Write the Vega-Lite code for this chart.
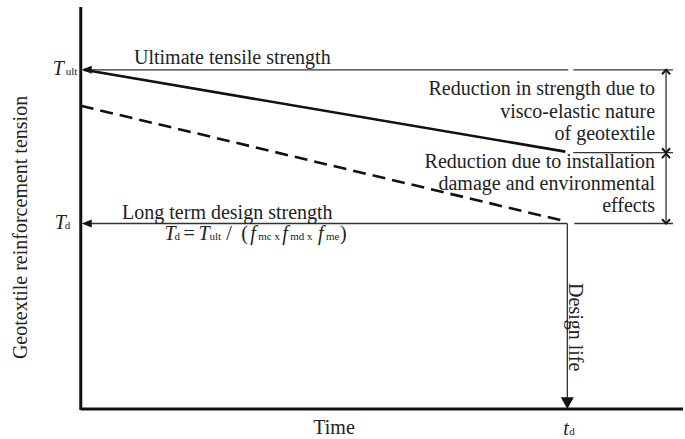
{
  "$schema": "https://vega.github.io/schema/vega-lite/v6.json",
  "autosize": {"type": "fit", "contains": "padding"},
  "width": 685,
  "height": 439,
  "padding": 0,
  "background": "white",
  "config": {"view": {"stroke": null}},
  "datasets": {
    "segments": [
      {"part": "tension axis", "kind": "axis", "t": 0, "v": 403, "t2": 0, "v2": -1},
      {"part": "time axis", "kind": "axis", "t": 0, "v": 0, "t2": 604, "v2": 0},
      {"part": "ultimate level", "kind": "leader", "t": 5, "v": 340, "t2": 489, "v2": 340},
      {"part": "ultimate level tick", "kind": "leader", "t": 494, "v": 340, "t2": 594, "v2": 340},
      {"part": "creep level tick", "kind": "leader", "t": 494, "v": 257, "t2": 594, "v2": 257},
      {"part": "design level", "kind": "leader", "t": 5, "v": 186, "t2": 488, "v2": 186},
      {"part": "design level tick", "kind": "leader", "t": 495, "v": 186, "t2": 594, "v2": 186},
      {"part": "design life", "kind": "leader", "t": 488, "v": 186, "t2": 488, "v2": 10},
      {"part": "creep reduction", "kind": "leader", "t": 587, "v": 338, "t2": 587, "v2": 258},
      {"part": "damage reduction", "kind": "leader", "t": 587, "v": 255, "t2": 587, "v2": 188},
      {"part": "creep strength", "kind": "solid", "t": 3, "v": 340, "t2": 486, "v2": 258},
      {"part": "available strength", "kind": "dashed", "t": 0, "v": 304, "t2": 487, "v2": 188}
    ],
    "heads": [
      {"kind": "left", "t": 1, "v": 340},
      {"kind": "left", "t": 1, "v": 186},
      {"kind": "down", "t": 488, "v": 0},
      {"kind": "up-open", "t": 587, "v": 340},
      {"kind": "down-open", "t": 587, "v": 257},
      {"kind": "up-open", "t": 587, "v": 256},
      {"kind": "down-open", "t": 587, "v": 186}
    ],
    "labels": [
      {"role": "center", "text": "Ultimate tensile strength", "t": 152, "v": 346},
      {"role": "center", "text": "Long term design strength", "t": 147, "v": 191},
      {"role": "center", "text": "Time", "t": 254, "v": -25},
      {"role": "right", "text": "Reduction in strength due to", "t": 576, "v": 315},
      {"role": "right", "text": "visco-elastic nature", "t": 576, "v": 292},
      {"role": "right", "text": "of geotextile", "t": 576, "v": 270},
      {"role": "right", "text": "Reduction due to installation", "t": 576, "v": 242},
      {"role": "right", "text": "damage and environmental", "t": 576, "v": 220},
      {"role": "right", "text": "effects", "t": 576, "v": 198},
      {"role": "rotL", "text": "Geotextile reinforcement tension", "t": -60, "v": 182},
      {"role": "rotR", "text": "Design life", "t": 496, "v": 82},
      {"role": "ital", "text": "T", "t": -28, "v": 335},
      {"role": "sub", "text": "ult", "t": -15, "v": 335},
      {"role": "ital", "text": "T", "t": -26, "v": 180},
      {"role": "sub", "text": "d", "t": -16, "v": 180},
      {"role": "ital", "text": "t", "t": 484, "v": -26},
      {"role": "sub", "text": "d", "t": 490, "v": -26},
      {"role": "ital", "text": "T", "t": 84, "v": 169},
      {"role": "sub", "text": "d", "t": 94, "v": 169},
      {"role": "plain", "text": "=", "t": 103, "v": 169},
      {"role": "ital", "text": "T", "t": 118, "v": 169},
      {"role": "sub", "text": "ult", "t": 129, "v": 169},
      {"role": "plain", "text": "/", "t": 146, "v": 169},
      {"role": "plain", "text": "(", "t": 161, "v": 169},
      {"role": "ital", "text": "f", "t": 170, "v": 169},
      {"role": "sub", "text": "mc x", "t": 178, "v": 169},
      {"role": "ital", "text": "f", "t": 202, "v": 169},
      {"role": "sub", "text": "md", "t": 210, "v": 169},
      {"role": "sub", "text": "x", "t": 227, "v": 169},
      {"role": "ital", "text": "f", "t": 238, "v": 169},
      {"role": "sub", "text": "me", "t": 246, "v": 169},
      {"role": "plain", "text": ")", "t": 260, "v": 169}
    ]
  },
  "encoding": {
    "x": {"field": "t", "type": "quantitative", "scale": {"domain": [-81, 604], "nice": false, "zero": false}, "axis": null},
    "y": {"field": "v", "type": "quantitative", "scale": {"domain": [-29, 410], "nice": false, "zero": false}, "axis": null}
  },
  "layer": [
    {
      "data": {"name": "segments"},
      "transform": [{"filter": "datum.kind === 'leader'"}],
      "mark": {"type": "rule", "color": "#333333", "strokeWidth": 1.3},
      "encoding": {"x2": {"field": "t2"}, "y2": {"field": "v2"}}
    },
    {
      "data": {"name": "segments"},
      "transform": [{"filter": "datum.kind === 'axis'"}],
      "mark": {"type": "rule", "color": "#111111", "strokeWidth": 3},
      "encoding": {"x2": {"field": "t2"}, "y2": {"field": "v2"}}
    },
    {
      "data": {"name": "segments"},
      "transform": [{"filter": "datum.kind === 'solid'"}],
      "mark": {"type": "rule", "color": "#111111", "strokeWidth": 2.6},
      "encoding": {"x2": {"field": "t2"}, "y2": {"field": "v2"}}
    },
    {
      "data": {"name": "segments"},
      "transform": [{"filter": "datum.kind === 'dashed'"}],
      "mark": {"type": "rule", "color": "#111111", "strokeWidth": 2.6, "strokeDash": [13, 7]},
      "encoding": {"x2": {"field": "t2"}, "y2": {"field": "v2"}}
    },
    {
      "data": {"name": "heads"},
      "transform": [{"filter": "datum.kind === 'left'"}],
      "mark": {"type": "point", "shape": "M0,0L2,-0.8L2,0.8Z", "filled": true, "color": "#111111", "opacity": 1, "size": 100, "strokeWidth": 0}
    },
    {
      "data": {"name": "heads"},
      "transform": [{"filter": "datum.kind === 'down'"}],
      "mark": {"type": "point", "shape": "M0,0L-1,-1.8L1,-1.8Z", "filled": true, "color": "#111111", "opacity": 1, "size": 169, "strokeWidth": 0}
    },
    {
      "data": {"name": "heads"},
      "transform": [{"filter": "datum.kind === 'up-open'"}],
      "mark": {"type": "point", "shape": "M-1,1.1L0,0L1,1.1", "filled": false, "color": "#111111", "opacity": 1, "size": 64, "strokeWidth": 2}
    },
    {
      "data": {"name": "heads"},
      "transform": [{"filter": "datum.kind === 'down-open'"}],
      "mark": {"type": "point", "shape": "M-1,-1.1L0,0L1,-1.1", "filled": false, "color": "#111111", "opacity": 1, "size": 64, "strokeWidth": 2}
    },
    {
      "data": {"name": "labels"},
      "transform": [{"filter": "datum.role === 'center'"}],
      "mark": {"type": "text", "font": "Liberation Serif, serif", "fontSize": 20, "color": "#222222", "align": "center", "baseline": "alphabetic"},
      "encoding": {"text": {"field": "text"}}
    },
    {
      "data": {"name": "labels"},
      "transform": [{"filter": "datum.role === 'right'"}],
      "mark": {"type": "text", "font": "Liberation Serif, serif", "fontSize": 20, "color": "#222222", "align": "right", "baseline": "alphabetic"},
      "encoding": {"text": {"field": "text"}}
    },
    {
      "data": {"name": "labels"},
      "transform": [{"filter": "datum.role === 'plain'"}],
      "mark": {"type": "text", "font": "Liberation Serif, serif", "fontSize": 20, "color": "#222222", "align": "left", "baseline": "alphabetic"},
      "encoding": {"text": {"field": "text"}}
    },
    {
      "data": {"name": "labels"},
      "transform": [{"filter": "datum.role === 'ital'"}],
      "mark": {"type": "text", "font": "Liberation Serif, serif", "fontSize": 20, "fontStyle": "italic", "color": "#222222", "align": "left", "baseline": "alphabetic"},
      "encoding": {"text": {"field": "text"}}
    },
    {
      "data": {"name": "labels"},
      "transform": [{"filter": "datum.role === 'sub'"}],
      "mark": {"type": "text", "font": "Liberation Serif, serif", "fontSize": 11, "color": "#222222", "align": "left", "baseline": "alphabetic"},
      "encoding": {"text": {"field": "text"}}
    },
    {
      "data": {"name": "labels"},
      "transform": [{"filter": "datum.role === 'rotL'"}],
      "mark": {"type": "text", "font": "Liberation Serif, serif", "fontSize": 20, "color": "#222222", "align": "center", "baseline": "middle", "angle": 270},
      "encoding": {"text": {"field": "text"}}
    },
    {
      "data": {"name": "labels"},
      "transform": [{"filter": "datum.role === 'rotR'"}],
      "mark": {"type": "text", "font": "Liberation Serif, serif", "fontSize": 20, "color": "#222222", "align": "center", "baseline": "middle", "angle": 90},
      "encoding": {"text": {"field": "text"}}
    }
  ]
}
